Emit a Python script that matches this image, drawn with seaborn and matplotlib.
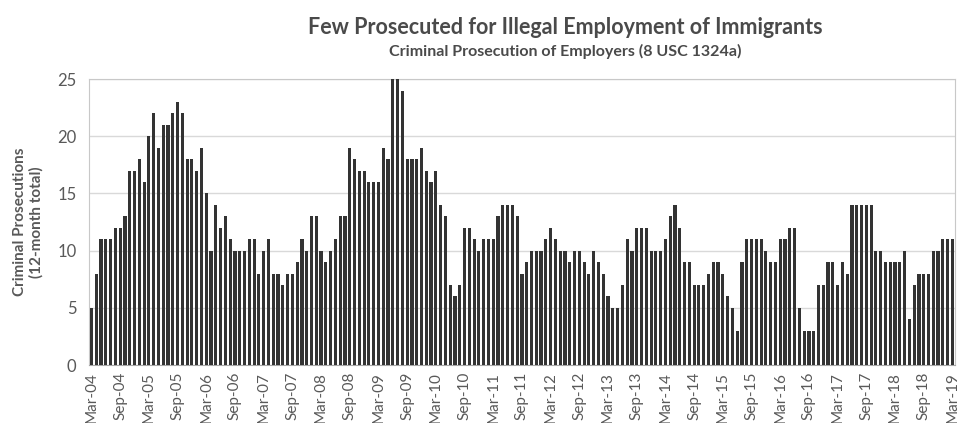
import matplotlib
matplotlib.use("Agg")
import matplotlib.pyplot as plt
import seaborn as sns
import pandas as pd

# Dados (processos criminais, total 12 meses, mensal Mar-04 .. Mar-19)
meses = pd.date_range("2004-03-01", "2019-03-01", freq="MS").strftime("%b-%y").tolist()
processos = [
    5, 8, 11, 11, 11, 12, 12, 13, 17, 17, 18, 16,
    20, 22, 19, 21, 21, 22, 23, 22, 18, 18, 17, 19,
    15, 10, 14, 12, 13, 11, 10, 10, 10, 11, 11, 8,
    10, 11, 8, 8, 7, 8, 8, 9, 11, 10, 13, 13,
    10, 9, 10, 11, 13, 13, 19, 18, 17, 17, 16, 16,
    16, 19, 18, 25, 25, 24, 18, 18, 18, 19, 17, 16,
    17, 14, 13, 7, 6, 7, 12, 12, 11, 10, 11, 11,
    11, 13, 14, 14, 14, 13, 8, 9, 10, 10, 10, 11,
    12, 11, 10, 10, 9, 10, 10, 9, 8, 10, 9, 8,
    6, 5, 5, 7, 11, 10, 12, 12, 12, 10, 10, 10,
    11, 13, 14, 12, 9, 9, 7, 7, 7, 8, 9, 9,
    8, 6, 5, 3, 9, 11, 11, 11, 11, 10, 9, 9,
    11, 11, 12, 12, 5, 3, 3, 3, 7, 7, 9, 9,
    7, 9, 8, 14, 14, 14, 14, 14, 10, 10, 9, 9,
    9, 9, 10, 4, 7, 8, 8, 8, 10, 10, 11, 11,
    11,
]
titulo = "Few Prosecuted for Illegal Employment of Immigrants"
subtitulo = "Criminal Prosecution of Employers (8 USC 1324a)"
rotulo_y = "Criminal Prosecutions\n(12-month total)"

df = pd.DataFrame({"Mes": meses, "Processos": processos})

sns.set_style("white")
plt.rcParams["font.family"] = ["Lato", "DejaVu Sans"]

cinza = "#595959"
fig = plt.figure(figsize=(9.63, 4.23), dpi=100)
ax = fig.add_axes([0.0925, 0.137, 0.899, 0.676])

# sem borda branca do estilo do seaborn
sns.barplot(data=df, x="Mes", y="Processos", color="#333333", saturation=1,
            width=0.66, linewidth=0, edgecolor="none", ax=ax, zorder=3)

ax.set_ylim(0, 25)
ax.set_xlim(-0.5, len(meses) - 0.5)
ax.set_yticks([0, 5, 10, 15, 20, 25])
ax.yaxis.grid(True, color="#d9d9d9", linewidth=1, zorder=0)
ax.set_axisbelow(True)

pos = list(range(0, len(meses), 6))
ax.set_xticks(pos)
ax.set_xticklabels([meses[p] for p in pos], rotation=90, fontsize=11, color=cinza)
ax.tick_params(axis="y", labelsize=12, colors=cinza, length=0, pad=9)
ax.tick_params(axis="x", length=0, pad=5)

for lado in ["top", "right", "left"]:
    ax.spines[lado].set_color("#c8c8c8")
ax.spines["bottom"].set_color("#a6a6a6")

ax.set_xlabel("")
ax.set_ylabel(rotulo_y, fontsize=11, fontweight="bold", color=cinza, labelpad=10)

fig.text(0.587, 0.935, titulo, ha="center", va="center", fontsize=15.5,
         fontweight="bold", color="#4a4a4a")
fig.text(0.587, 0.878, subtitulo, ha="center", va="center", fontsize=11.5,
         fontweight="bold", color="#4a4a4a")

fig.savefig("out.png", dpi=100)
